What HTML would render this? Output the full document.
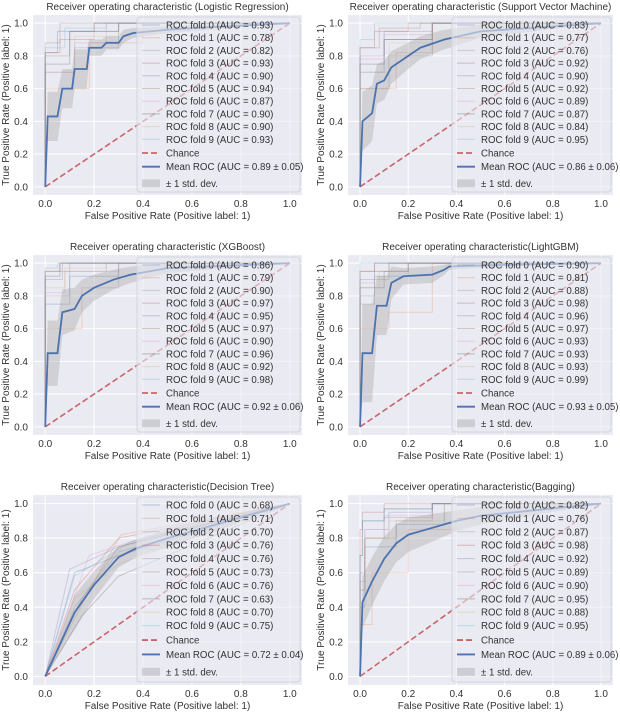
<!DOCTYPE html>
<html><head><meta charset="utf-8"><style>
body{margin:0;background:#fff;width:620px;height:716px;overflow:hidden;font-family:"Liberation Sans",sans-serif}
svg text{font-family:"Liberation Sans",sans-serif;fill:#333}
</style></head><body>
<svg id="c" width="620" height="716" xmlns="http://www.w3.org/2000/svg"></svg>
<script>
const titles=["Receiver operating characteristic (Logistic Regression)","Receiver operating characteristic (Support Vector Machine)","Receiver operating characteristic (XGBoost)","Receiver operating characteristic(LightGBM)","Receiver operating characteristic(Decision Tree)","Receiver operating characteristic(Bagging)"];
const foldAUCs=[
[0.93,0.78,0.82,0.93,0.90,0.94,0.87,0.90,0.90,0.93],
[0.83,0.77,0.76,0.92,0.90,0.92,0.89,0.87,0.84,0.95],
[0.86,0.79,0.90,0.97,0.95,0.97,0.90,0.96,0.92,0.98],
[0.90,0.81,0.88,0.98,0.96,0.97,0.93,0.93,0.93,0.99],
[0.68,0.71,0.70,0.76,0.76,0.73,0.76,0.63,0.70,0.75],
[0.82,0.76,0.87,0.98,0.92,0.89,0.90,0.95,0.88,0.95]];
const meanAUC=["0.89 ± 0.05","0.86 ± 0.06","0.92 ± 0.06","0.93 ± 0.05","0.72 ± 0.04","0.89 ± 0.06"];
const meanFpr=[
[0,0.01,0.05,0.07,0.11,0.12,0.17,0.18,0.23,0.25,0.30,0.32,0.36,0.5,0.6,1],
[0,0.01,0.05,0.07,0.10,0.13,0.20,0.25,0.35,0.5,1],
[0,0.01,0.05,0.07,0.12,0.15,0.20,0.28,0.35,0.5,1],
[0,0.01,0.05,0.07,0.11,0.13,0.18,0.30,0.35,0.37,0.6,1],
[0,0.12,0.20,0.30,0.37,0.5,0.7,1],
[0,0.01,0.05,0.10,0.15,0.20,0.30,0.40,0.50,1]];
const meanTpr=[
[0,0.43,0.43,0.60,0.60,0.72,0.72,0.85,0.85,0.88,0.88,0.92,0.94,0.96,0.97,1],
[0,0.40,0.45,0.63,0.65,0.73,0.80,0.85,0.90,0.95,1],
[0,0.45,0.45,0.70,0.72,0.80,0.85,0.90,0.93,0.97,1],
[0,0.45,0.45,0.74,0.74,0.88,0.92,0.93,0.96,0.98,0.99,1],
[0,0.37,0.53,0.69,0.74,0.80,0.88,1],
[0,0.43,0.55,0.68,0.77,0.82,0.86,0.90,0.93,1]];
const meanStd=[
[0,0.15,0.15,0.12,0.12,0.12,0.12,0.05,0.05,0.04,0.04,0.04,0.03,0.02,0.02,0],
[0,0.18,0.17,0.12,0.12,0.10,0.08,0.07,0.06,0.04,0],
[0,0.20,0.20,0.14,0.13,0.10,0.08,0.06,0.05,0.03,0],
[0,0.30,0.30,0.18,0.18,0.10,0.05,0.05,0.03,0.02,0.01,0],
[0,0.10,0.08,0.06,0.05,0.05,0.04,0],
[0,0.15,0.14,0.13,0.11,0.10,0.08,0.06,0.05,0]];
const foldPts=[
[[[0,0.6],[0.05,0.82],[0.2,0.95],[0.35,1]],[[0,0.18],[0.18,0.6],[0.18,0.85],[0.4,0.88],[0.55,1]],[[0,0.3],[0.12,0.7],[0.3,0.85],[0.5,1]],[[0,0.7],[0.06,0.82],[0.2,0.9],[0.4,1]],[[0,0.55],[0.1,0.8],[0.3,0.95],[0.45,1]],[[0,0.65],[0.06,0.88],[0.25,1]],[[0,0.18],[0.12,0.7],[0.25,0.88],[0.6,1]],[[0,0.55],[0.1,0.75],[0.3,0.95],[0.4,1]],[[0,0.45],[0.12,0.8],[0.3,0.92],[0.45,1]],[[0,0.6],[0.08,0.85],[0.25,0.97],[0.4,1]]],
[[[0,0.35],[0.1,0.7],[0.3,0.9],[0.5,1]],[[0,0.2],[0.15,0.6],[0.3,0.82],[0.6,1]],[[0,0.15],[0.12,0.6],[0.3,0.8],[0.6,1]],[[0,0.6],[0.06,0.85],[0.2,0.95],[0.35,1]],[[0,0.5],[0.1,0.8],[0.3,0.95],[0.4,1]],[[0,0.55],[0.08,0.85],[0.25,0.97],[0.35,1]],[[0,0.45],[0.1,0.78],[0.3,0.93],[0.45,1]],[[0,0.4],[0.1,0.75],[0.3,0.9],[0.45,1]],[[0,0.3],[0.12,0.7],[0.3,0.88],[0.5,1]],[[0,0.7],[0.06,0.9],[0.2,1]]],
[[[0,0.4],[0.1,0.75],[0.3,0.92],[0.4,1]],[[0,0.2],[0.15,0.6],[0.3,0.85],[0.5,1]],[[0,0.5],[0.1,0.8],[0.25,0.95],[0.35,1]],[[0,0.85],[0.06,0.95],[0.15,1]],[[0,0.7],[0.07,0.9],[0.2,1]],[[0,0.88],[0.1,0.95],[0.2,1]],[[0,0.5],[0.08,0.82],[0.3,0.95],[0.35,1]],[[0,0.75],[0.06,0.92],[0.2,1]],[[0,0.6],[0.08,0.85],[0.25,0.97],[0.3,1]],[[0,0.9],[0.05,0.97],[0.12,1]]],
[[[0,0.5],[0.06,0.8],[0.2,0.92],[0.4,1]],[[0,0.12],[0.12,0.6],[0.3,0.7],[0.36,1]],[[0,0.12],[0.06,0.75],[0.12,0.9],[0.45,1]],[[0,0.88],[0.06,0.95],[0.12,1]],[[0,0.75],[0.06,0.9],[0.12,1]],[[0,0.93],[0.12,0.95],[0.2,1]],[[0,0.6],[0.06,0.88],[0.2,0.95],[0.3,1]],[[0,0.5],[0.1,0.85],[0.2,0.95],[0.3,1]],[[0,0.55],[0.08,0.85],[0.2,0.95],[0.3,1]],[[0,0.94],[0.12,1]]],
[[[0.12,0.6],[0.3,0.7],[1,1]],[[0.18,0.5],[0.31,0.82],[1,1]],[[0.12,0.4],[0.3,0.72],[1,1]],[[0.12,0.5],[0.3,0.8],[1,1]],[[0.1,0.62],[0.3,0.75],[1,1]],[[0.15,0.45],[0.3,0.75],[1,1]],[[0.18,0.7],[0.35,0.78],[1,1]],[[0.15,0.35],[0.3,0.58],[1,1]],[[0.12,0.45],[0.3,0.65],[1,1]],[[0.12,0.58],[0.35,0.78],[1,1]]],
[[[0.02,0.4],[0.15,0.75],[0.35,0.88],[1,1]],[[0.05,0.3],[0.2,0.6],[0.4,0.85],[1,1]],[[0.02,0.55],[0.1,0.8],[0.3,0.92],[1,1]],[[0.01,0.85],[0.1,0.95],[1,1]],[[0.02,0.6],[0.12,0.85],[0.3,0.95],[1,1]],[[0.02,0.5],[0.15,0.8],[0.3,0.9],[1,1]],[[0.02,0.5],[0.1,0.8],[0.3,0.93],[1,1]],[[0.01,0.7],[0.1,0.9],[0.3,0.97],[1,1]],[[0.02,0.5],[0.12,0.8],[0.35,0.9],[1,1]],[[0.01,0.7],[0.1,0.9],[0.3,0.97],[1,1]]]];
const ticks=[0,0.2,0.4,0.6,0.8,1.0];

const NS="http://www.w3.org/2000/svg";
const svg=document.getElementById('c');
function mk(tag,attrs,parent){const e=document.createElementNS(NS,tag);for(const k in attrs)e.setAttribute(k,attrs[k]);(parent||svg).appendChild(e);return e;}
const geo=[[33,15,269,180],[348,15,265,180],[33,255,269,180],[348,255,265,180],[33,495,269,190],[348,495,265,190]];
const foldCols=["#4c72b0","#dd8452","#8c8c8c","#c44e52","#8172b3","#937860","#da8bc3","#555555","#ccb974","#64b5cd"];
const stepPanels=[true,true,true,true,false,true];
for(let p=0;p<6;p++){
  const [l,t,w,h]=geo[p];
  const g=mk('g',{});
  
  
  const X=v=>l+(v+0.05)/1.1*w, Y=v=>t+h-(v+0.05)/1.1*h;
  const bg=mk('rect',{x:l,y:t,width:w,height:h,fill:'#eaeaf2'},g);
  
  
  ticks.forEach(v=>{
    mk('line',{x1:X(v),x2:X(v),y1:t,y2:t+h,stroke:'#fff','stroke-width':1},g);
    mk('line',{x1:l,x2:l+w,y1:Y(v),y2:Y(v),stroke:'#fff','stroke-width':1},g);
    const tx=mk('text',{x:X(v),y:t+h+12,'font-size':10,'text-anchor':'middle'},g);tx.textContent=v.toFixed(1);
    
    
    const ty=mk('text',{x:l-5,y:Y(v)+3.5,'font-size':10,'text-anchor':'end'},g);ty.textContent=v.toFixed(1);
    
    
  });
  foldPts[p].forEach((pts,i)=>{
    let all=[[0,0]].concat(pts);if(all[all.length-1][0]<1)all.push([1,1]);
    let d='M'+X(0)+','+Y(0);
    for(let k=1;k<all.length;k++){
      if(stepPanels[p]){d+=' L'+X(all[k-1][0])+','+Y(all[k][1])+' L'+X(all[k][0])+','+Y(all[k][1]);}
      else d+=' L'+X(all[k][0])+','+Y(all[k][1]);
    }
    const pl=mk('path',{d:d,fill:'none',stroke:foldCols[i],'stroke-width':1,'stroke-opacity':0.28},g);
    
    
  });
  const fx=meanFpr[p],ty=meanTpr[p],sd=meanStd[p];
  let up=[],lo=[];
  for(let k=0;k<fx.length;k++){up.push(X(fx[k])+','+Y(Math.min(1,ty[k]+sd[k])));lo.unshift(X(fx[k])+','+Y(Math.max(0,ty[k]-sd[k])));}
  const band=mk('polygon',{points:up.concat(lo).join(' '),fill:'#8c8c8c','fill-opacity':0.28},g);
  
  
  const ch=mk('line',{x1:X(0),y1:Y(0),x2:X(1),y2:Y(1),stroke:'#c44e52','stroke-width':1.6,'stroke-dasharray':'6,3','stroke-opacity':0.85},g);
  
  
  const mp=mk('polyline',{points:fx.map((v,k)=>X(v)+','+Y(ty[k])).join(' '),fill:'none',stroke:'#4c72b0','stroke-width':1.8},g);
  
  
  const s=h/180, lx=l+104, ly=t+2;
  const lg=mk('g',{},g);
  
  
  mk('rect',{x:lx,y:ly,width:w-106,height:h-5,rx:3,fill:'#eaeaf2','fill-opacity':0.6,stroke:'#d4d4dc'},lg);
  const rows=[];
  for(let i=0;i<10;i++)rows.push(['fold',i,'ROC fold '+i+' (AUC = '+foldAUCs[p][i].toFixed(2)+')',ly+8+i*12.7*s]);
  rows.push(['chance',0,'Chance',ly+8+10*12.7*s+1]);
  rows.push(['mean',0,'Mean ROC (AUC = '+meanAUC[p]+')',ly+8+11*12.7*s+2]);
  rows.push(['std',0,'± 1 std. dev.',ly+8+12*12.7*s+6]);
  rows.forEach(r=>{
    const yy=r[3];
    if(r[0]=='fold')mk('line',{x1:lx+5,x2:lx+23,y1:yy,y2:yy,stroke:foldCols[r[1]],'stroke-opacity':0.35},lg);
    if(r[0]=='chance')mk('line',{x1:lx+5,x2:lx+23,y1:yy,y2:yy,stroke:'#c44e52','stroke-width':1.6,'stroke-dasharray':'6,3'},lg);
    if(r[0]=='mean')mk('line',{x1:lx+5,x2:lx+23,y1:yy,y2:yy,stroke:'#4c72b0','stroke-width':1.8},lg);
    if(r[0]=='std')mk('rect',{x:lx+5,y:yy-4,width:18,height:8,fill:'#8c8c8c','fill-opacity':0.3},lg);
    const tx=mk('text',{x:lx+29,y:yy+3.5,'font-size':9.7},lg);tx.textContent=r[2];
    
    
  });
  const tt=mk('text',{x:l+w/2,y:t-5,'font-size':10,'text-anchor':'middle'},g);tt.textContent=titles[p];
  
  
  const xl=mk('text',{x:l+w/2,y:t+h+24,'font-size':10,'text-anchor':'middle'},g);xl.textContent='False Positive Rate (Positive label: 1)';
  
  
  const yl=mk('text',{x:0,y:0,'font-size':10,'text-anchor':'middle',transform:'translate('+(l-24)+','+(t+h/2)+') rotate(-90)'},g);yl.textContent='True Positive Rate (Positive label: 1)';
  
  
}
</script>
</body></html>
